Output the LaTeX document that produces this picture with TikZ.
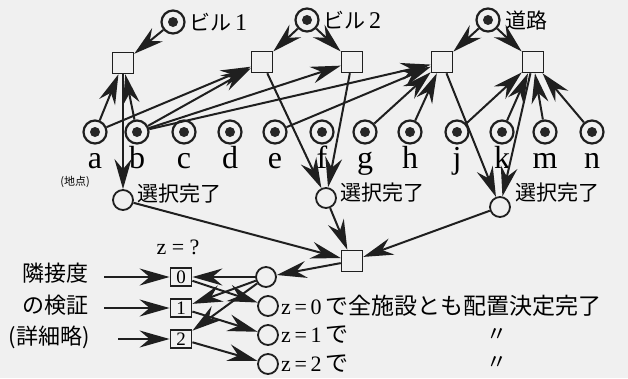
\documentclass[tikz,border=0pt]{standalone}
\usepackage{fontspec}
\setmainfont{Liberation Serif}
\newfontfamily\jp{Noto Sans CJK JP}
\usetikzlibrary{arrows.meta}
\tikzset{ar/.style={line width=2pt,draw=black!88,-{Stealth[length=30pt,width=17pt,inset=10pt]}}}
\begin{document}
\begin{tikzpicture}[x=1pt,y=-1pt,
  tok/.style={circle,draw=black!88,line width=2.2pt,minimum size=23pt,inner sep=0pt,
    path picture={\fill[black!85] (path picture bounding box.center) circle (5pt);}},
  pl/.style={circle,draw=black!88,line width=1.8pt,minimum size=20pt,inner sep=0pt},
  tr/.style={rectangle,draw=black!88,line width=1.5pt,minimum size=21pt,inner sep=0pt},
  nb/.style={rectangle,draw=black!88,line width=1.8pt,minimum width=21pt,minimum height=18pt,inner sep=0pt,font=\fontsize{19}{19}\selectfont},
  lab/.style={font=\fontsize{32}{32}\selectfont,anchor=base,inner sep=0pt},
  jl/.style={font=\jp\fontsize{21}{21}\selectfont,inner sep=0pt},
  big/.style={font=\fontsize{22}{22}\selectfont,inner sep=0pt},
]
\fill[black!6] (0,0) rectangle (628,378);
\useasboundingbox (0,0) rectangle (628,378);

% top places
\node[tok] (B1) at (173,22) {};
\node[jl,anchor=west] (B1l) at (189,22) {ビル\hspace{4pt}{\rmfamily\fontsize{24}{24}\selectfont 1}};
\node[tok] (B2) at (307,20) {};
\node[jl,anchor=west] (B2l) at (323,20) {ビル\hspace{4pt}{\rmfamily\fontsize{24}{24}\selectfont 2}};
\node[tok] (R) at (488,20) {};
\node[jl,anchor=west] (Rl) at (505,20) {道路};

% transitions
\node[tr] (T1) at (123,63) {};
\node[tr] (T2) at (262,62) {};
\node[tr] (T3) at (352,62) {};
\node[tr] (T4) at (442,62) {};
\node[tr] (T5) at (533,62) {};

% location places
\foreach \n/\x in {a/95,b/137,c/184,d/230,e/275,f/322,g/365,h/410,j/457,k/502,m/545,n/592}{
  \node[tok] (\n) at (\x,132) {};
  \node[lab] (\n l) at (\x,168) {\n};
}
\node[font=\jp\fontsize{11}{11}\selectfont,inner sep=0pt] (loc) at (75,182) {(地点)};

% selection complete places
\node[pl] (P1) at (123,200) {};
\node[jl,anchor=west] (P1l) at (137,194) {選択完了};
\node[pl] (P2) at (326,198) {};
\node[jl,anchor=west] (P2l) at (340,193) {選択完了};
\node[pl] (P3) at (500,207) {};
\node[jl,anchor=west] (P3l) at (515,193) {選択完了};

% final transition
\node[tr] (T6) at (352,261) {};

% lower part
\node[big] (zq) at (178,247) {z = ?};
\node[pl] (Q0) at (266,277) {};
\node[pl] (Q1) at (268,306) {};
\node[pl] (Q2) at (268,335) {};
\node[pl] (Q3) at (268,364) {};
\node[nb] (N0) at (181,277) {0};
\node[nb] (N1) at (181,308) {1};
\node[nb] (N2) at (181,339) {2};

\node[jl,font=\jp\fontsize{22}{22}\selectfont] (L0) at (55,273) {隣接度};
\node[jl,font=\jp\fontsize{22}{22}\selectfont] (L1) at (55,305) {の検証};
\node[jl,font=\jp\fontsize{22}{22}\selectfont] (L2) at (49,337) {(詳細略)};
\coordinate (S0) at (104,277);
\coordinate (S1) at (104,308);
\coordinate (S2) at (118,339);

\node[anchor=west,inner sep=0pt] (Z0) at (281,306) {{\fontsize{22}{22}\selectfont z\,=\,0\,}{\jp\fontsize{23}{23}\selectfont で全施設とも配置決定完了}};
\node[anchor=west,inner sep=0pt] (Z1) at (281,335) {{\fontsize{22}{22}\selectfont z\,=\,1\,}{\jp\fontsize{23}{23}\selectfont で}};
\node[anchor=west,inner sep=0pt] (Z2) at (281,364) {{\fontsize{22}{22}\selectfont z\,=\,2\,}{\jp\fontsize{23}{23}\selectfont で}};
\node[jl] (D1) at (497,335) {〃};
\node[jl] (D2) at (497,363) {〃};

% arrows top
\draw[ar] (B1) -- (T1);
\draw[ar] (B2) -- (T2);
\draw[ar] (B2) -- (T3);
\draw[ar] (R) -- (T4);
\draw[ar] (R) -- (T5);
\draw[ar] (a) -- (T1);
\draw[ar] (b) -- (T1);
\draw[ar] (a) -- (T2);
\draw[ar] (b) -- (T2);
\draw[ar] (b) -- (T3);
\draw[ar] (b) -- (T4);
\draw[ar] (e) -- (T4);
\draw[ar] (g) -- (T4);
\draw[ar] (h) -- (T4);
\draw[ar] (j) -- (T5);
\draw[ar] (k) -- (T5);
\draw[ar] (m) -- (T5);
\draw[ar] (n) -- (T5);
\draw[ar] (T1) -- (P1);
\draw[ar] (T2) -- (P2);
\draw[ar] (T3) -- (P2);
\draw[ar] (T4) -- (P3);
\draw[ar] (T5) -- (P3);
% to final transition
\draw[ar] (P1) -- (T6);
\draw[ar] (P2) -- (T6);
\draw[ar] (P3) -- (T6);
\draw[ar] (T6) -- (Q0);
% lower
\draw[ar] (Q0) -- (N0);
\draw[ar] (Q0) -- (N1);
\draw[ar] (Q0) -- (N2);
\draw[ar] (N0) -- (Q1);
\draw[ar] (N1) -- (Q2);
\draw[ar] (N2) -- (Q3);
\draw[ar] (S0) -- (N0);
\draw[ar] (S1) -- (N1);
\draw[ar] (S2) -- (N2);
\end{tikzpicture}
\end{document}
